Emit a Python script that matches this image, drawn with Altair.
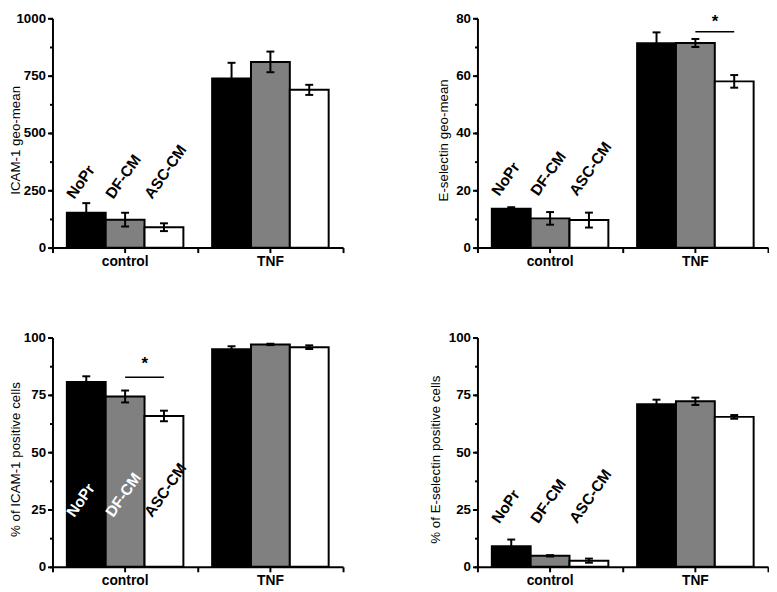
import altair as alt
import pandas as pd

FONT = "Liberation Sans"

groups = ["control", "TNF"]
series = ["NoPr", "DF-CM", "ASC-CM"]
bar_colors = ["#000000", "#808080", "#ffffff"]

# ICAM-1 geo-mean
icam_geo_control = [152, 122, 89]
icam_geo_control_err = [42, 30, 17]
icam_geo_tnf = [738, 810, 688]
icam_geo_tnf_err = [68, 45, 22]

# E-selectin geo-mean
esel_geo_control = [13.6, 10.2, 9.6]
esel_geo_control_err = [0.5, 2.2, 2.6]
esel_geo_tnf = [71.3, 71.4, 58.0]
esel_geo_tnf_err = [3.8, 1.4, 2.2]

# % of ICAM-1 positive cells
icam_pct_control = [80.6, 74.3, 65.8]
icam_pct_control_err = [2.5, 2.6, 2.3]
icam_pct_tnf = [94.9, 97.0, 95.8]
icam_pct_tnf_err = [1.3, 0.3, 0.8]

# % of E-selectin positive cells
esel_pct_control = [9.0, 4.8, 2.7]
esel_pct_control_err = [2.9, 0.3, 0.9]
esel_pct_tnf = [70.9, 72.2, 65.4]
esel_pct_tnf_err = [2.0, 1.6, 0.8]

y_titles = ["ICAM-1 geo-mean", "E-selectin geo-mean",
            "% of ICAM-1 positive cells", "% of E-selectin positive cells"]
y_max = [1000, 80, 100, 100]
y_minor = [125, 10, 12.5, 12.5]
y_major = [250, 20, 25, 25]
label_y = [283, 23.7, 28.7, 26]
label_colors = [["black", "black", "black"], ["black", "black", "black"],
                ["white", "white", "black"], ["black", "black", "black"]]
sig_group = [None, "TNF", "control", None]
sig_line_y = [None, 75.3, 82.7, None]
sig_star_y = [None, 77.0, 86.5, None]
title_x = [-30.5, -27.7, -30.5, -35.7]

W, H = 294, 232


def panel(i, ctrl, ctrl_err, tnf, tnf_err):
    rows = []
    for g, means, errs in [("control", ctrl, ctrl_err), ("TNF", tnf, tnf_err)]:
        for s, m, e in zip(series, means, errs):
            rows.append({"group": g, "series": s, "mean": m, "lo": m - e, "hi": m + e})
    df = pd.DataFrame(rows)

    ymax, minor, major = y_max[i], y_minor[i], y_major[i]
    major_ticks = [k * major for k in range(int(round(ymax / major)) + 1)]
    minor_ticks = [k * minor for k in range(int(round(ymax / minor)) + 1)]
    yscale = alt.Scale(domain=[0, ymax], nice=False, zero=True)
    y_major_axis = alt.Axis(
        values=major_ticks, format="d", title=y_titles[i], titleX=title_x[i], titleY=H / 2 + 7,
        titleFont=FONT, titleFontSize=13.5, titleFontWeight="normal", titleColor="black",
        labelFont=FONT, labelFontSize=13.5, labelFontWeight="bold", labelColor="black",
        labelOverlap=False, labelPadding=2, tickSize=5, tickWidth=2, tickColor="black",
        domainWidth=2, domainColor="black", grid=False, orient="left",
    )
    y_minor_axis = alt.Axis(
        values=minor_ticks, title=None, labels=False, domain=False, tickSize=3,
        tickWidth=2, tickColor="black", grid=False, orient="left",
    )
    main_x_axis = alt.Axis(
        title=None, labelFont=FONT, labelFontSize=14, labelFontWeight="bold",
        labelColor="black", labelAngle=0, labelPadding=2, tickSize=5, tickWidth=2,
        tickColor="black", domainWidth=2, domainColor="black", tickBand="center",
        grid=False, orient="bottom",
    )
    extent_x_axis = alt.Axis(
        title=None, labels=False, domain=False, tickSize=5, tickWidth=2,
        tickColor="black", tickBand="extent", grid=False, orient="bottom",
    )

    def X(axis):
        return alt.X("group:N", sort=groups,
                     scale=alt.Scale(domain=groups, paddingInner=0, paddingOuter=0),
                     axis=axis)

    XO = alt.XOffset("series:N", sort=series,
                     scale=alt.Scale(domain=series, paddingInner=0, paddingOuter=0.37))

    bars = alt.Chart(df).mark_bar(stroke="black", strokeWidth=2, opacity=1).encode(
        x=X(main_x_axis), xOffset=XO,
        y=alt.Y("mean:Q", scale=yscale, axis=y_major_axis),
        fill=alt.Fill("series:N", scale=alt.Scale(domain=series, range=bar_colors), legend=None),
    )

    lab_df = pd.DataFrame({"group": ["control"] * 3, "series": series,
                           "y": [label_y[i]] * 3, "color": label_colors[i]})
    labels = alt.Chart(lab_df).mark_text(
        align="left", baseline="alphabetic", angle=305, dx=-21,
        font=FONT, fontSize=15.5, fontWeight="bold", opacity=1,
    ).encode(
        x=X(None), xOffset=XO, y=alt.Y("y:Q", scale=yscale, axis=None),
        text="series:N", color=alt.Color("color:N", scale=None),
    )

    rules = alt.Chart(df).mark_rule(color="black", strokeWidth=2, opacity=1).encode(
        x=X(extent_x_axis), xOffset=XO,
        y=alt.Y("lo:Q", scale=yscale, axis=y_minor_axis), y2="hi:Q",
    )
    cap_hi = alt.Chart(df).mark_tick(orient="horizontal", size=8, thickness=2,
                                     color="black", opacity=1).encode(
        x=X(None), xOffset=XO, y=alt.Y("hi:Q", scale=yscale, axis=None))
    cap_lo = alt.Chart(df).mark_tick(orient="horizontal", size=8, thickness=2,
                                     color="black", opacity=1).encode(
        x=X(None), xOffset=XO, y=alt.Y("lo:Q", scale=yscale, axis=None))

    layers = [bars, labels, rules, cap_hi, cap_lo]

    if sig_group[i] is not None:
        line_df = pd.DataFrame({"group": [sig_group[i]] * 2, "series": ["DF-CM", "ASC-CM"],
                                "y": [sig_line_y[i]] * 2})
        sig_line = alt.Chart(line_df).mark_line(color="black", strokeWidth=1.5, opacity=1).encode(
            x=X(None), xOffset=XO, y=alt.Y("y:Q", scale=yscale, axis=None))
        star_df = pd.DataFrame({"group": [sig_group[i]], "series": ["DF-CM"],
                                "y": [sig_star_y[i]], "t": ["*"]})
        star = alt.Chart(star_df).mark_text(
            align="center", baseline="alphabetic", dx=20, font=FONT, fontSize=17,
            fontWeight="bold", color="black", opacity=1,
        ).encode(x=X(None), xOffset=XO, y=alt.Y("y:Q", scale=yscale, axis=None), text="t:N")
        layers += [sig_line, star]

    return alt.layer(*layers).resolve_axis(
        x="independent", y="independent"
    ).properties(width=W, height=H)


p1 = panel(0, icam_geo_control, icam_geo_control_err, icam_geo_tnf, icam_geo_tnf_err)
p2 = panel(1, esel_geo_control, esel_geo_control_err, esel_geo_tnf, esel_geo_tnf_err)
p3 = panel(2, icam_pct_control, icam_pct_control_err, icam_pct_tnf, icam_pct_tnf_err)
p4 = panel(3, esel_pct_control, esel_pct_control_err, esel_pct_tnf, esel_pct_tnf_err)

chart = alt.concat(
    p1, p2, p3, p4, columns=2, spacing={"row": 91, "column": 136}, bounds="flush"
).properties(
    padding=0, background="white"
).configure_view(stroke=None)

chart.save("out.html", embed_options={"renderer": "svg", "actions": False})
